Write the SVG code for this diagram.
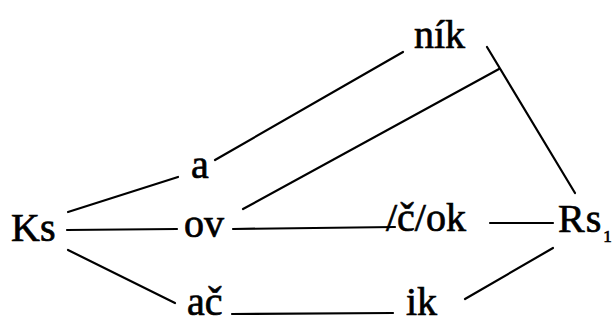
<svg xmlns="http://www.w3.org/2000/svg" width="614" height="325" viewBox="0 0 614 325">
<style>
text{font-family:"Liberation Serif","Times New Roman",serif;fill:#000;stroke:#000;stroke-width:0.7;font-size:40px}
.c line{stroke:#000;stroke-width:2.2;stroke-linecap:round}
</style>
<rect width="614" height="325" fill="#fff"/>
<g class="c" id="connectors">
<line x1="68" y1="212" x2="178" y2="177"/>
<line x1="215" y1="160" x2="403" y2="52"/>
<line x1="243" y1="209" x2="499" y2="69"/>
<line x1="487" y1="47" x2="575" y2="193"/>
<line x1="67" y1="230" x2="177" y2="229"/>
<line x1="233" y1="229" x2="395" y2="227"/>
<line x1="490" y1="223" x2="553" y2="223"/>
<line x1="68" y1="250" x2="175" y2="303"/>
<line x1="232" y1="314" x2="393" y2="313"/>
<line x1="465" y1="299" x2="553" y2="248"/>
</g>
<g id="n-nik"><text x="414" y="48" font-size="44">ník</text></g>
<g id="n-a"><text x="191" y="178">a</text></g>
<g id="n-ks"><text x="11" y="241">Ks</text></g>
<g id="n-ov"><text x="184" y="237" font-size="37">ov</text></g>
<g id="n-cok"><text x="386" y="231">/č/ok</text></g>
<g id="n-rs"><text x="558" y="232" letter-spacing="1">Rs<tspan font-size="17" dx="1" dy="10" letter-spacing="0">1</tspan></text></g>
<g id="n-ac"><text x="187" y="315">ač</text></g>
<g id="n-ik"><text x="406" y="315" font-size="42">ik</text></g>
</svg>
